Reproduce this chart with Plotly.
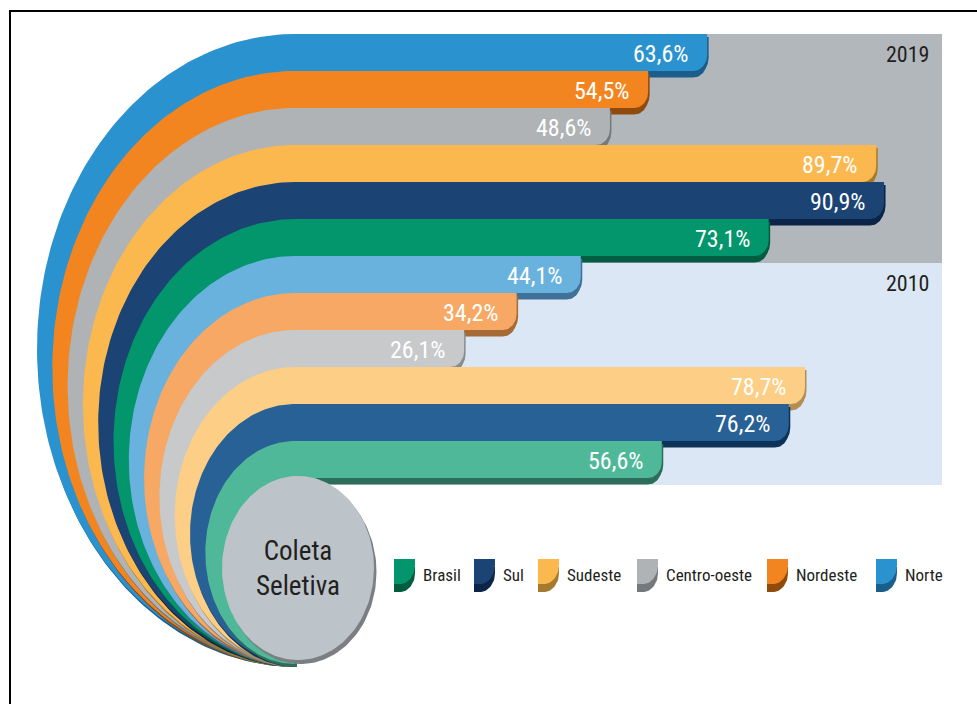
import numpy as np
import plotly.graph_objects as go

# ---- data -------------------------------------------------------------
regions = ["Norte", "Nordeste", "Centro-oeste", "Sudeste", "Sul", "Brasil"]
values_2019 = [63.6, 54.5, 48.6, 89.7, 90.9, 73.1]
values_2010 = [44.1, 34.2, 26.1, 78.7, 76.2, 56.6]
years = ["2019", "2010"]
legend_order = ["Brasil", "Sul", "Sudeste", "Centro-oeste", "Nordeste", "Norte"]
center_label = "Coleta<br>Seletiva"

# ---- styles -----------------------------------------------------------
fill_2019 = {"Norte": "#2b92d0", "Nordeste": "#f38520", "Centro-oeste": "#b0b3b6",
             "Sudeste": "#fbb84f", "Sul": "#1b4373", "Brasil": "#03956b"}
shade_2019 = {"Norte": "#1b5e8c", "Nordeste": "#8f4a0c", "Centro-oeste": "#76797c",
              "Sudeste": "#a57a2e", "Sul": "#0b2447", "Brasil": "#015c40"}
fill_2010 = {"Norte": "#6ab2de", "Nordeste": "#f6a864", "Centro-oeste": "#c7c9cb",
             "Sudeste": "#fdce85", "Sul": "#286195", "Brasil": "#4fb899"}
shade_2010 = {"Norte": "#3f7199", "Nordeste": "#a56a35", "Centro-oeste": "#8a8c8e",
              "Sudeste": "#b38d52", "Sul": "#0e3358", "Brasil": "#2c6e5a"}
panel_colors = {"2019": "#b2b7bc", "2010": "#dce7f5"}
fills = {"2019": fill_2019, "2010": fill_2010}
shades = {"2019": shade_2019, "2010": shade_2010}

FONT = "Roboto Condensed, Liberation Sans Narrow, DejaVu Sans Condensed, Roboto, sans-serif"
DARK = "#231f20"

# ---- scales: x in percent, y in rows (one row per bar) -----------------
W, H = 977, 704
PX_X = 6.48          # pixels per percentage point
PX_Y = 37.0          # pixels per row
X0_PX, Y0_PX = 295, 34


def sx(px):
    return px / PX_X


def sy(px):
    return px / PX_Y


x_range = [-X0_PX / PX_X, (W - X0_PX) / PX_X]
y_range = [(H - Y0_PX) / PX_Y, -Y0_PX / PX_Y]

BOTTOM = sy(630)                     # where all the curved tails meet
CORNER_X, CORNER_Y = sx(14), sy(16)  # rounded end of each bar


def rounded_box(x0, x1, y0, y1, cx_, cy_):
    """Box with its lower-right corner rounded by an elliptical quarter."""
    t = np.linspace(0, np.pi / 2, 20)
    xs = [x0, x1] + list(x1 - cx_ + cx_ * np.cos(t)) + [x0]
    ys = [y0, y0] + list(y1 - cy_ + cy_ * np.sin(t)) + [y1]
    return xs, ys


def bar_outline(row, v):
    return rounded_box(0, v, row, row + 1, CORNER_X, CORNER_Y)


def band_outline(row, v):
    xs, ys = bar_outline(row, v)
    rx = sx(258 - 15.3 * row)
    ry = (BOTTOM - row) / 2
    cy = (BOTTOM + row) / 2
    t = np.linspace(0, np.pi, 140)
    xs = xs + [0] + list(-rx * np.sin(t))
    ys = ys + [BOTTOM] + list(cy + ry * np.cos(t))
    return xs, ys


def poly(xs, ys, color, ox=0.0, oy=0.0):
    return go.Scatter(x=[x + ox for x in xs], y=[y + oy for y in ys],
                      fill="toself", fillcolor=color, mode="lines",
                      line=dict(width=0), hoverinfo="skip", showlegend=False)


fig = go.Figure()
annotations = []
shapes = []

rows = []
for year, vals in zip(years, [values_2019, values_2010]):
    for region, v in zip(regions, vals):
        rows.append((year, region, v))

# background panels per year
for k, year in enumerate(years):
    y_top = k * len(regions) + (sy(7) if k else 0)
    y_bot = (k + 1) * len(regions) + sy(7)
    shapes.append(dict(type="rect", xref="x", yref="y", layer="below",
                       x0=sx(-2), x1=sx(647), y0=y_top, y1=y_bot,
                       fillcolor=panel_colors[year], line=dict(width=0)))
    annotations.append(dict(x=sx(931 - X0_PX), y=k * len(regions) + sy(20) + (sy(7) if k else 0),
                            xref="x", yref="y", text=year, showarrow=False,
                            xanchor="right", yanchor="middle",
                            font=dict(family=FONT, size=22, color=DARK)))

# bands, outermost first
for i, (year, region, v) in enumerate(rows):
    shade = shades[year][region]
    bx, by = band_outline(i, v)
    fig.add_trace(poly(bx, by, shade, sx(1.5), sy(3)))
    rx_, ry_ = bar_outline(i, v)
    fig.add_trace(poly(rx_, ry_, shade, 0, sy(6.5)))
    fig.add_trace(poly(bx, by, fills[year][region]))
    label = f"{v:.1f}".replace(".", ",") + "%"
    annotations.append(dict(x=v - sx(17), y=i + sy(20), xref="x", yref="y",
                            text=label, showarrow=False, xanchor="right",
                            yanchor="middle",
                            font=dict(family=FONT, size=24, color="white")))

# centre disc
t = np.linspace(0, 2 * np.pi, 160)
cx, cy = sx(3), sy(568 - Y0_PX)
erx, ery = sx(76), sy(92)
ex = list(cx + erx * np.cos(t))
ey = list(cy + ery * np.sin(t))
fig.add_trace(poly(ex, ey, "#7b7f84", sx(2.5), sy(4)))
fig.add_trace(poly(ex, ey, "#bcc4ca"))
annotations.append(dict(x=cx, y=cy, xref="x", yref="y", text=center_label,
                        showarrow=False, xanchor="center", yanchor="middle",
                        font=dict(family=FONT, size=27, color=DARK)))

# legend
legend_slots_px = [394, 474, 538, 637, 767, 876]
icon_w, icon_h = sx(21), sy(25)
icon_top = sy(559 - Y0_PX)
for name, slot in zip(legend_order, legend_slots_px):
    lx = sx(slot - X0_PX)
    ix, iy = rounded_box(lx, lx + icon_w, icon_top, icon_top + icon_h, sx(15), sy(19))
    fig.add_trace(poly(ix, iy, shade_2019[name], 0, sy(8)))
    fig.add_trace(poly(ix, iy, fill_2019[name]))
    annotations.append(dict(x=lx + sx(27), y=sy(575 - Y0_PX), xref="x", yref="y",
                            text=name, showarrow=False, xanchor="left",
                            yanchor="middle",
                            font=dict(family=FONT, size=17, color=DARK)))

# outer frame
shapes.append(dict(type="rect", xref="paper", yref="paper",
                   x0=10 / W, x1=1.2, y0=-0.2, y1=1 - 11 / H,
                   line=dict(color="black", width=2), fillcolor="rgba(0,0,0,0)"))

fig.update_layout(
    width=W, height=H, margin=dict(l=0, r=0, t=0, b=0),
    paper_bgcolor="white", plot_bgcolor="white", showlegend=False,
    xaxis=dict(range=x_range, visible=False, fixedrange=True),
    yaxis=dict(range=y_range, visible=False, fixedrange=True),
    shapes=shapes, annotations=annotations,
)

fig.write_html("out.html")
